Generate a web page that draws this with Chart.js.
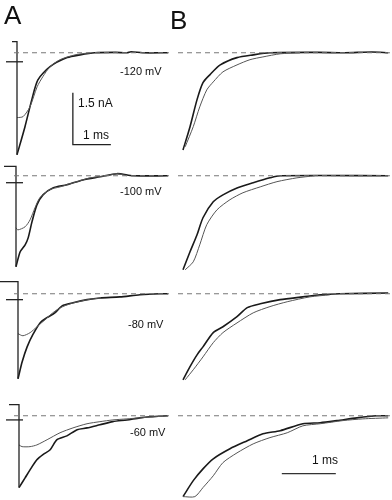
<!DOCTYPE html>
<html><head><meta charset="utf-8">
<script src="https://cdn.jsdelivr.net/npm/chart.js@4/dist/chart.umd.min.js"></script>
<style>
html,body{margin:0;padding:0;background:#fff;width:392px;height:500px;overflow:hidden;position:relative;font-family:"Liberation Sans",Arial,sans-serif;color:#111}
canvas{position:absolute}
.t{position:absolute;white-space:nowrap;line-height:1}
</style></head><body>
<div id="wrap"></div>
<script>
// ---------------- DATA (time in ms, current in nA) ----------------
const voltages = ['-120 mV', '-100 mV', '-80 mV', '-60 mV'];
const panelLetters = ['A', 'B'];
const scaleLabels = ['1.5 nA', '1 ms', '1 ms'];

// Panel A: holding level before the step, and zero-current marker level
const aPreLevel = [0.32, 0.27, 0.35, 0.32];
const aMarkerLevel = [-0.26, -0.20, -0.17, -0.12];

// Panel A, measured currents (dark traces)
const aDark120 = [[0,-2.94],[0.21,-2.13],[0.39,-1.35],[0.55,-0.78],[0.87,-0.40],[1.32,-0.14],[1.66,-0.06],[2.05,0],[2.6,0.01],[2.9,0],[3.0,0.03],[3.3,0],[3.97,0]];
const aDark100 = [[0,-2.62],[0.11,-2.19],[0.24,-1.99],[0.32,-1.79],[0.42,-1.33],[0.55,-0.84],[0.71,-0.55],[0.97,-0.35],[1.34,-0.26],[1.76,-0.12],[2.21,-0.03],[2.66,0.06],[3.08,0],[4.0,0]];
const aDark80 = [[0,-2.45],[0.11,-1.96],[0.24,-1.53],[0.39,-1.18],[0.58,-0.84],[0.76,-0.69],[0.97,-0.55],[1.16,-0.35],[1.45,-0.26],[1.82,-0.17],[2.16,-0.12],[2.68,-0.09],[3.21,-0.03],[3.74,0],[3.95,0]];
const aDark60 = [[0,-2.07],[0.16,-1.79],[0.29,-1.56],[0.47,-1.27],[0.63,-1.12],[0.82,-0.98],[1.0,-0.69],[1.26,-0.58],[1.53,-0.40],[1.79,-0.35],[2.13,-0.26],[2.47,-0.17],[2.84,-0.12],[3.18,-0.06],[3.45,-0.03],[3.92,0]];

// Panel A, thin traces
const aThin120 = [[0,-1.87],[0.16,-1.84],[0.34,-1.56],[0.53,-0.98],[0.68,-0.69],[0.87,-0.40],[1.13,-0.20],[1.53,-0.06],[1.92,0]];
const aThin100 = [[0,-1.50],[0.05,-1.56],[0.24,-1.47],[0.37,-1.27],[0.50,-0.92],[0.63,-0.63],[0.89,-0.40],[1.16,-0.32],[1.61,-0.17],[1.95,-0.06],[2.39,0],[2.66,0.06],[2.92,0]];
const aThin80 = [[0,-1.15],[0.13,-1.21],[0.32,-1.12],[0.50,-0.95],[0.74,-0.72],[0.95,-0.52],[1.18,-0.37],[1.47,-0.26],[1.84,-0.17],[2.18,-0.12]];
const aThin60 = [[0,-0.84],[0.08,-0.89],[0.29,-0.89],[0.47,-0.84],[0.74,-0.69],[1.08,-0.49],[1.42,-0.35],[1.79,-0.23],[2.13,-0.17],[2.47,-0.12],[2.84,-0.09],[3.18,-0.06],[3.92,0]];

// Panel B, dark traces
const bDark120 = [[0,-2.80],[0.13,-2.13],[0.26,-1.35],[0.37,-0.86],[0.50,-0.63],[0.69,-0.35],[1.0,-0.14],[1.30,-0.06],[1.61,0],[2.5,0.01],[3.0,0],[3.5,0.02],[3.8,0]];
const bDark100 = [[0,-2.71],[0.13,-2.19],[0.26,-1.70],[0.37,-1.21],[0.56,-0.75],[0.74,-0.55],[1.0,-0.35],[1.30,-0.20],[1.61,-0.06],[1.80,0],[3.8,0]];
const bDark80 = [[0,-2.48],[0.13,-2.10],[0.26,-1.76],[0.37,-1.53],[0.56,-1.12],[0.74,-0.95],[1.0,-0.66],[1.19,-0.40],[1.43,-0.29],[1.80,-0.17],[2.22,-0.09],[2.54,-0.03],[2.9,0],[3.8,0.02]];
const bDark60 = [[0,-2.33],[0.19,-1.87],[0.37,-1.53],[0.56,-1.24],[0.87,-0.95],[1.19,-0.72],[1.48,-0.52],[1.80,-0.43],[2.22,-0.23],[2.54,-0.20],[2.85,-0.14],[3.22,-0.06],[3.59,0],[3.80,0]];

// Panel B, thin traces
const bThin120 = [[0.04,-2.71],[0.19,-2.13],[0.31,-1.56],[0.44,-1.07],[0.56,-0.84],[0.74,-0.55],[1.0,-0.35],[1.24,-0.20],[1.48,-0.12],[1.80,-0.03],[2.17,0]];
const bThin100 = [[0.04,-2.71],[0.19,-2.48],[0.31,-1.99],[0.44,-1.41],[0.63,-0.98],[0.87,-0.69],[1.11,-0.49],[1.43,-0.32],[1.74,-0.17],[2.11,-0.06],[2.44,0]];
const bThin80 = [[0.04,-2.48],[0.19,-2.19],[0.37,-1.82],[0.56,-1.41],[0.74,-1.12],[1.0,-0.84],[1.30,-0.55],[1.61,-0.37],[1.93,-0.23],[2.35,-0.09],[2.72,-0.03]];
const bThin60 = [[0,-2.33],[0.22,-2.33],[0.37,-2.07],[0.56,-1.73],[0.74,-1.35],[1.0,-1.07],[1.30,-0.81],[1.61,-0.63],[1.93,-0.49],[2.22,-0.29],[2.54,-0.23],[2.96,-0.14],[3.33,-0.09],[3.80,-0.06]];

// Scale bars: A = 1.5 nA x 1 ms, B = 1 ms
const aScaleBar = [[1.47,-1.15],[1.47,-2.65],[2.47,-2.65]];
const bScaleBar = [[1.83,-1.67],[2.83,-1.67]];

const aDark = [aDark120, aDark100, aDark80, aDark60];
const aThin = [aThin120, aThin100, aThin80, aThin60];
const bDark = [bDark120, bDark100, bDark80, bDark60];
const bThin = [bThin120, bThin100, bThin80, bThin60];

// ---------------- LAYOUT ----------------
const PX_NA = 34.7;
const PX_MS_A = 38, PX_MS_B = 54;
const baselines = [53, 176, 294, 416];
const aOriginX = [17, 16, 18, 19];
const aPreStartPx = [12, 4, 0, 9];
const bOriginX = 183;
const YMAX = 0.8, CH = 139;
const colA = {left: 0, width: 172};
const colB = {left: 172, width: 220};

const pts = arr => arr.map(p => ({x: p[0], y: p[1]}));
const wrap = document.getElementById('wrap');

function makeChart(col, originX, pxms, baseline, datasets) {
  const c = document.createElement('canvas');
  c.width = col.width; c.height = CH;
  c.style.left = col.left + 'px';
  c.style.top = (baseline - YMAX * PX_NA) + 'px';
  c.style.width = col.width + 'px'; c.style.height = CH + 'px';
  wrap.appendChild(c);
  const ox = originX - col.left;
  new Chart(c, {
    type: 'scatter',
    data: {datasets: datasets},
    options: {
      responsive: false, animation: false, devicePixelRatio: 1,
      layout: {padding: 0},
      plugins: {legend: {display: false}, tooltip: {enabled: false}},
      elements: {point: {radius: 0}},
      scales: {
        x: {type: 'linear', display: false, min: -ox / pxms, max: (col.width - ox) / pxms},
        y: {type: 'linear', display: false, max: YMAX, min: YMAX - CH / PX_NA}
      }
    }
  });
}

function line(data, color, width, dash) {
  return {data: pts(data), showLine: true, borderColor: color, borderWidth: width,
    borderDash: dash || [], pointRadius: 0, clip: false, tension: 0.25, fill: false};
}
function straight(data, color, width, dash) {
  const d = line(data, color, width, dash); d.tension = 0; return d;
}

for (let i = 0; i < 4; i++) {
  const ox = aOriginX[i];
  const preT = (aPreStartPx[i] - ox) / PX_MS_A;
  const dsA = [
    straight([[(14 - ox) / PX_MS_A, 0], [(169 - ox) / PX_MS_A, 0]], '#777', 1, [5, 4]),
    straight([[(6 - ox) / PX_MS_A, aMarkerLevel[i]], [(23 - ox) / PX_MS_A, aMarkerLevel[i]]], '#222', 1.3),
    straight([[preT, aPreLevel[i]], [0, aPreLevel[i]], aDark[i][0]], '#222', 1.3),
    line(aThin[i], '#555', 1),
    line(aDark[i], '#1a1a1a', 1.6)
  ];
  if (i === 0) dsA.push(straight(aScaleBar, '#222', 1.3));
  makeChart(colA, ox, PX_MS_A, baselines[i], dsA);

  const dsB = [
    straight([[(178 - bOriginX) / PX_MS_B, 0], [(390 - bOriginX) / PX_MS_B, 0]], '#777', 1, [5, 4]),
    line(bThin[i], '#555', 1),
    line(bDark[i], '#1a1a1a', 1.6)
  ];
  if (i === 3) dsB.push(straight(bScaleBar, '#333', 1.2));
  makeChart(colB, bOriginX, PX_MS_B, baselines[i], dsB);
}

// ---------------- TEXT ----------------
function text(s, left, top, size) {
  const d = document.createElement('div');
  d.className = 't'; d.textContent = s;
  d.style.left = left + 'px'; d.style.top = top + 'px'; d.style.fontSize = size + 'px';
  document.body.appendChild(d);
}
text(panelLetters[0], 4, 2, 26);
text(panelLetters[1], 170, 7, 26);
const vLabelPos = [[120, 66], [120, 186], [128, 319], [130, 427]];
voltages.forEach((v, i) => text(v, vLabelPos[i][0], vLabelPos[i][1], 11));
text(scaleLabels[0], 78, 97, 12);
text(scaleLabels[1], 83, 129, 12);
text(scaleLabels[2], 312, 454, 12);
</script>
</body></html>
